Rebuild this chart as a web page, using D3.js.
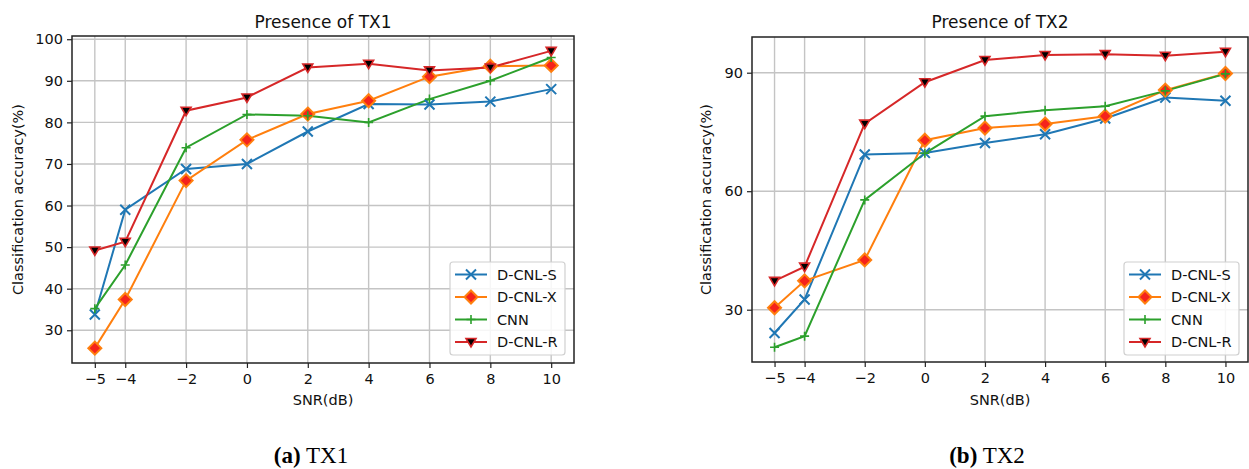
<!DOCTYPE html>
<html>
<head>
<meta charset="utf-8">
<script src="https://cdn.jsdelivr.net/npm/d3@7"></script>
<style>
  body { margin: 0; background: #fff; }
  svg { display: block; font-family: "DejaVu Sans", sans-serif; }
</style>
</head>
<body>
<script>
const snr = [-5, -4, -2, 0, 2, 4, 6, 8, 10];
const seriesNames = ["D-CNL-S", "D-CNL-X", "CNN", "D-CNL-R"];

// TX1 panel
const tx1S = [33.8, 59.0, 68.8, 70.0, 77.8, 84.4, 84.3, 85.0, 88.0];
const tx1X = [25.7, 37.4, 66.0, 75.8, 82.0, 85.2, 91.0, 93.5, 93.7];
const tx1C = [35.2, 45.7, 73.9, 81.9, 81.6, 80.0, 85.6, 90.0, 95.6];
const tx1R = [49.2, 51.3, 82.8, 86.0, 93.2, 94.1, 92.5, 93.2, 97.2];

// TX2 panel
const tx2S = [24.1, 32.6, 69.3, 69.7, 72.2, 74.4, 78.4, 83.7, 82.9];
const tx2X = [30.5, 37.3, 42.6, 72.9, 76.0, 77.0, 79.0, 85.6, 89.8];
const tx2C = [20.5, 23.3, 57.8, 69.6, 79.0, 80.5, 81.5, 85.4, 89.7];
const tx2R = [37.3, 40.9, 77.1, 87.6, 93.2, 94.5, 94.7, 94.3, 95.3];

const tx1Ticks = [30, 40, 50, 60, 70, 80, 90, 100];
const tx2Ticks = [30, 60, 90];

const colors = ["#1f77b4", "#ff7f0e", "#2ca02c", "#d62728"];
const gridColor = "#c4c4c4";
const frameColor = "#222";

const svg = d3.select("body").append("svg")
  .attr("width", 1249).attr("height", 469);

function drawMarker(g, kind, color) {
  if (kind === 0) {
    g.append("path").attr("d", "M-5,-5L5,5M-5,5L5,-5")
      .attr("stroke", color).attr("stroke-width", 2).attr("fill", "none");
  } else if (kind === 1) {
    g.append("path").attr("d", "M0,-6.5L6.5,0L0,6.5L-6.5,0Z")
      .attr("fill", "#f5231c").attr("stroke", color).attr("stroke-width", 2);
  } else if (kind === 2) {
    g.append("path").attr("d", "M-4.5,0L4.5,0M0,-4.5L0,4.5")
      .attr("stroke", color).attr("stroke-width", 1.6).attr("fill", "none");
  } else {
    g.append("path").attr("d", "M-5,-3.5L5,-3.5L0,5Z")
      .attr("fill", "#000").attr("stroke", color).attr("stroke-width", 1.6);
  }
}

function drawPanel(p) {
  const all = p.series.flat();
  const lo = d3.min(all), hi = d3.max(all), pad = (hi - lo) * 0.05;
  const x = d3.scaleLinear().domain([-5.75, 10.75]).range([p.left, p.right]);
  const y = d3.scaleLinear().domain([lo - pad, hi + pad]).range([p.bottom, p.top]);

  const g = svg.append("g");

  // grid
  g.append("g").selectAll("line").data(snr).join("line")
    .attr("x1", d => x(d)).attr("x2", d => x(d))
    .attr("y1", p.top).attr("y2", p.bottom)
    .attr("stroke", gridColor).attr("stroke-width", 1.4);
  g.append("g").selectAll("line").data(p.yTicks).join("line")
    .attr("x1", p.left).attr("x2", p.right)
    .attr("y1", d => y(d)).attr("y2", d => y(d))
    .attr("stroke", gridColor).attr("stroke-width", 1.4);

  // axes
  const xAxis = g.append("g").attr("transform", `translate(0,${p.bottom})`)
    .call(d3.axisBottom(x).tickValues(snr).tickSize(5).tickPadding(6)
      .tickFormat(d => d < 0 ? "\u2212" + Math.abs(d) : d));
  const yAxis = g.append("g").attr("transform", `translate(${p.left},0)`)
    .call(d3.axisLeft(y).tickValues(p.yTicks).tickSize(5).tickPadding(4));
  [xAxis, yAxis].forEach(a => {
    a.select(".domain").remove();
    a.selectAll("line").attr("stroke", frameColor).attr("stroke-width", 1.2);
    a.selectAll("text").attr("font-size", 14.5).attr("fill", "#111")
      .attr("font-family", "DejaVu Sans");
  });

  g.append("rect").attr("x", p.left).attr("y", p.top)
    .attr("width", p.right - p.left).attr("height", p.bottom - p.top)
    .attr("fill", "none").attr("stroke", frameColor).attr("stroke-width", 1.5);

  // series
  const line = d3.line().x((d, i) => x(snr[i])).y(d => y(d));
  p.series.forEach((vals, k) => {
    g.append("path").datum(vals).attr("d", line)
      .attr("fill", "none").attr("stroke", colors[k]).attr("stroke-width", 2);
  });
  p.series.forEach((vals, k) => {
    vals.forEach((v, i) => {
      drawMarker(g.append("g").attr("transform", `translate(${x(snr[i])},${y(v)})`), k, colors[k]);
    });
  });

  // texts
  g.append("text").attr("x", (p.left + p.right) / 2).attr("y", 27.5)
    .attr("text-anchor", "middle").attr("font-size", 17).attr("fill", "#111")
    .text(p.title);
  g.append("text").attr("x", (p.left + p.right) / 2).attr("y", 405)
    .attr("text-anchor", "middle").attr("font-size", 14.5).attr("fill", "#111")
    .text("SNR(dB)");
  g.append("text")
    .attr("transform", `translate(${p.ylabX},${(p.top + p.bottom) / 2}) rotate(-90)`)
    .attr("text-anchor", "middle").attr("font-size", 14.5).attr("fill", "#111")
    .text("Classification accuracy(%)");

  // legend
  const lw = 115, lx = p.right - 9 - lw, ly = 262;
  const leg = g.append("g");
  leg.append("rect").attr("x", lx).attr("y", ly).attr("width", lw).attr("height", 93)
    .attr("rx", 3).attr("fill", "#fff").attr("fill-opacity", 0.85)
    .attr("stroke", "#d0d0d0").attr("stroke-width", 1.2);
  seriesNames.forEach((name, k) => {
    const cy = ly + 12.5 + k * 22.5;
    leg.append("line").attr("x1", lx + 5).attr("x2", lx + 37)
      .attr("y1", cy).attr("y2", cy).attr("stroke", colors[k]).attr("stroke-width", 2);
    drawMarker(leg.append("g").attr("transform", `translate(${lx + 21},${cy})`), k, colors[k]);
    leg.append("text").attr("x", lx + 47).attr("y", cy + 5.2)
      .attr("font-size", 14.5).attr("fill", "#111").text(name);
  });

  // caption
  const cap = svg.append("text").attr("x", p.capX).attr("y", 463)
    .attr("text-anchor", "middle").attr("font-family", "Liberation Serif")
    .attr("font-size", 23).attr("fill", "#000");
  cap.append("tspan").attr("font-weight", "bold").text(p.capA);
  cap.append("tspan").text(" " + p.capB);
}

drawPanel({
  title: "Presence of TX1", series: [tx1S, tx1X, tx1C, tx1R], yTicks: tx1Ticks,
  left: 72, right: 574, top: 36, bottom: 363, ylabX: 23, capX: 311, capA: "(a)", capB: "TX1"
});
drawPanel({
  title: "Presence of TX2", series: [tx2S, tx2X, tx2C, tx2R], yTicks: tx2Ticks,
  left: 752, right: 1248, top: 37, bottom: 362, ylabX: 711, capX: 987, capA: "(b)", capB: "TX2"
});
</script>
</body>
</html>
